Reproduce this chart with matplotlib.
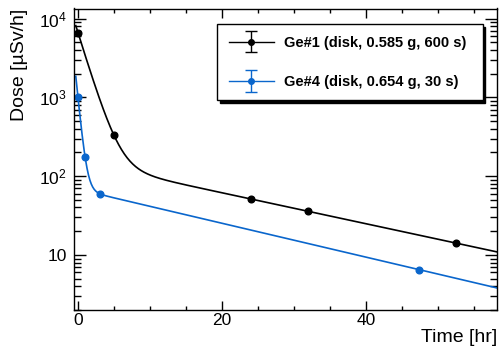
import numpy as np
import matplotlib
matplotlib.use("Agg")
import matplotlib.pyplot as plt
from matplotlib.ticker import FixedLocator, FuncFormatter, MultipleLocator, LogLocator, NullFormatter
from matplotlib.legend_handler import HandlerErrorbar

# ---- data ----
ge1_time = np.array([0.0, 5.0, 24.0, 32.0, 52.5])
ge1_dose = np.array([6640.0, 330.0, 51.0, 36.0, 14.1])
ge4_time = np.array([0.0, 1.0, 3.0, 47.4])
ge4_dose = np.array([1000.0, 173.0, 58.5, 6.5])
ge1_label = "Ge#1 (disk, 0.585 g, 600 s)"
ge4_label = "Ge#4 (disk, 0.654 g, 30 s)"
ge1_color = "black"
ge4_color = "#0a66cc"

plt.rcParams['font.family'] = ['Liberation Sans', 'DejaVu Sans']
plt.rcParams['mathtext.fontset'] = 'custom'
plt.rcParams['mathtext.rm'] = 'Liberation Sans'
plt.rcParams['mathtext.it'] = 'Liberation Sans:italic'
plt.rcParams['mathtext.bf'] = 'Liberation Sans:bold'


def two_exp_fit(t, d, head, tail):
    s = np.polyfit(t[tail], np.log(d[tail]), 1)
    A2, l2 = np.exp(s[1]), -s[0]
    resid = d[head] - A2 * np.exp(-l2 * t[head])
    f = np.polyfit(t[head], np.log(resid), 1)
    A1, l1 = np.exp(f[1]), -f[0]
    return lambda x: A1 * np.exp(-l1 * x) + A2 * np.exp(-l2 * x)


fit1 = two_exp_fit(ge1_time, ge1_dose, [0, 1], [2, 3, 4])
fit4 = two_exp_fit(ge4_time, ge4_dose, [0, 1], [2, 3])

fig = plt.figure(figsize=(4.99, 3.49), dpi=100)
ax = fig.add_axes([74 / 499, 39 / 349, 423 / 499, 301.5 / 349])

xlim = (-0.55, 58.2)
tt = np.linspace(-0.3, xlim[1], 600)
ax.plot(tt, fit1(tt), color=ge1_color, lw=1.2)
ax.plot(tt, fit4(tt), color=ge4_color, lw=1.2)
ax.plot(ge1_time, ge1_dose, 'o', color=ge1_color, ms=4.8)
ax.plot(ge4_time, ge4_dose, 'o', color=ge4_color, ms=4.8)

# legend proxies (not drawn: NaN position)
h1 = ax.errorbar([np.nan], [np.nan], yerr=[1.0], fmt='-o', color=ge1_color, ms=4, lw=1.0,
                 capsize=4, capthick=1.0, elinewidth=1.0, label=ge1_label)
h4 = ax.errorbar([np.nan], [np.nan], yerr=[1.0], fmt='-o', color=ge4_color, ms=4, lw=1.0,
                 capsize=4, capthick=1.0, elinewidth=1.0, label=ge4_label)

ax.set_yscale('log')
ax.set_xlim(*xlim)
ax.set_ylim(2.0, 13400)

ax.xaxis.set_major_locator(FixedLocator([0, 20, 40]))
ax.xaxis.set_minor_locator(MultipleLocator(5))
ax.yaxis.set_major_locator(LogLocator(base=10, numticks=10))
ax.yaxis.set_minor_locator(LogLocator(base=10, subs=np.arange(2, 10), numticks=20))
ax.yaxis.set_minor_formatter(NullFormatter())


def yfmt(v, pos):
    e = int(round(np.log10(v)))
    if e == 1:
        return "10"
    return r"$10^{%d}$" % e


ax.yaxis.set_major_formatter(FuncFormatter(yfmt))

ax.tick_params(axis='both', which='both', direction='in', top=True, right=True, width=1.0)
ax.tick_params(axis='x', which='major', length=6.5, labelsize=12.5, pad=2)
ax.tick_params(axis='x', which='minor', length=3.2)
ax.tick_params(axis='y', which='major', length=8.6, labelsize=12.5, pad=5)
ax.tick_params(axis='y', which='minor', length=5)
for sp in ax.spines.values():
    sp.set_linewidth(1.0)

ax.set_xlabel("Time [hr]", loc='right', fontsize=14, labelpad=1)
ax.set_ylabel("Dose [µSv/h]", loc='top', fontsize=14, labelpad=8)

fs = 10.5
leg = ax.legend(handles=[h1, h4], loc='upper left',
                bbox_to_anchor=(0.338, 0.70, 0.628, 0.2486), mode='expand',
                prop={'weight': 'bold', 'size': fs}, frameon=True, fancybox=False,
                shadow={'color': 'black', 'alpha': 1.0}, edgecolor='black', framealpha=1,
                borderpad=0.8, labelspacing=1.72, handlelength=3.1, handletextpad=0.7,
                borderaxespad=0,
                handler_map={type(h1): HandlerErrorbar(xerr_size=0.5, yerr_size=0.75)})
leg.get_frame().set_linewidth(1.0)

fig.savefig("out.png", dpi=100)
